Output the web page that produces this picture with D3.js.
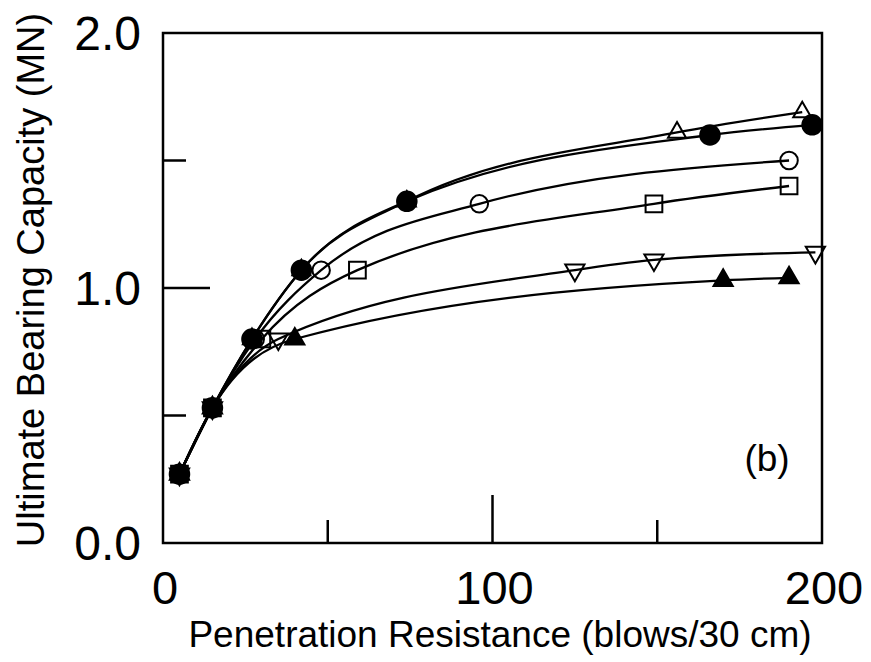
<!DOCTYPE html>
<html>
<head>
<meta charset="utf-8">
<script src="https://cdn.jsdelivr.net/npm/d3@7"></script>
<style>
body { margin: 0; background: #fff; }
text { font-family: "Liberation Sans", Arial, sans-serif; fill: #000; }
</style>
</head>
<body>
<script>
// data (blows/30 cm, MN)
var filledCircleX = [5, 15, 27, 42, 74, 166, 197];
var filledCircleY = [0.27, 0.53, 0.80, 1.07, 1.34, 1.60, 1.64];

var openTriUpX = [5, 15, 27, 42, 74, 156, 194];
var openTriUpY = [0.27, 0.53, 0.80, 1.07, 1.34, 1.61, 1.69];

var openCircleX = [5, 15, 28, 48, 96, 190];
var openCircleY = [0.27, 0.53, 0.80, 1.07, 1.33, 1.50];

var openSquareX = [5, 15, 30, 59, 149, 190];
var openSquareY = [0.27, 0.53, 0.80, 1.07, 1.33, 1.40];

var openTriDownX = [5, 15, 35, 125, 149, 198];
var openTriDownY = [0.27, 0.53, 0.80, 1.07, 1.11, 1.14];

var filledTriX = [5, 15, 40, 170, 190];
var filledTriY = [0.27, 0.53, 0.80, 1.03, 1.04];

var xTickLabels = [0, 100, 200];
var yTickLabels = [0.0, 1.0, 2.0];
var xMinorTicks = [50, 150];
var yMinorTicks = [0.5, 1.5];

var width = 871;
var height = 662;

var x = d3.scaleLinear().domain([0, 200]).range([163, 822]);
var y = d3.scaleLinear().domain([0, 2]).range([543, 33]);

var model = d3.select('body').append('svg')
        .attr('width', width)
        .attr('height', height);

// frame
model.append('rect')
        .attr('x', x(0))
        .attr('y', y(2))
        .attr('width', x(200) - x(0))
        .attr('height', y(0) - y(2))
        .attr('fill', 'none')
        .attr('stroke', '#000')
        .attr('stroke-width', 2.5);

// inward ticks, the middle ones are long
model.selectAll('.xtick')
        .data(xMinorTicks.concat([100]))
        .enter().append('line')
        .attr('x1', function(d) { return x(d); })
        .attr('x2', function(d) { return x(d); })
        .attr('y1', y(0))
        .attr('y2', function(d) { return y(0) - (d == 100 ? 48 : 23); })
        .attr('stroke', '#000')
        .attr('stroke-width', 2.5);

model.selectAll('.ytick')
        .data(yMinorTicks.concat([1.0]))
        .enter().append('line')
        .attr('x1', x(0))
        .attr('x2', function(d) { return x(0) + (d == 1.0 ? 47 : 23); })
        .attr('y1', function(d) { return y(d); })
        .attr('y2', function(d) { return y(d); })
        .attr('stroke', '#000')
        .attr('stroke-width', 2.5);

// tick labels
model.selectAll('.xlab')
        .data(xTickLabels)
        .enter().append('text')
        .attr('x', function(d) { return x(d) + 2; })
        .attr('y', 604)
        .attr('text-anchor', 'middle')
        .attr('font-size', 47)
        .text(function(d) { return d; });

model.selectAll('.ylab')
        .data(yTickLabels)
        .enter().append('text')
        .attr('x', 141)
        .attr('y', function(d) { return y(d) + 17; })
        .attr('text-anchor', 'end')
        .attr('font-size', 48)
        .text(function(d) { return d.toFixed(1); });

// axis titles
model.append('text')
        .attr('x', 500)
        .attr('y', 647)
        .attr('text-anchor', 'middle')
        .attr('font-size', 37)
        .text('Penetration Resistance (blows/30 cm)');

model.append('text')
        .attr('text-anchor', 'middle')
        .attr('font-size', 38)
        .attr('transform', 'translate(44,280) rotate(-90)')
        .text('Ultimate Bearing Capacity (MN)');

// panel label
model.append('text')
        .attr('x', 767)
        .attr('y', 471)
        .attr('text-anchor', 'middle')
        .attr('font-size', 37)
        .text('(b)');

// curves
var lineFunc = d3.line()
        .x(function(d) { return x(d[0]); })
        .y(function(d) { return y(d[1]); })
        .curve(d3.curveMonotoneX);

var series = [
    {xs: filledCircleX, ys: filledCircleY, shape: 'circle', filled: true, size: 300},
    {xs: openTriUpX, ys: openTriUpY, shape: 'triup', filled: false, size: 140},
    {xs: openCircleX, ys: openCircleY, shape: 'circle', filled: false, size: 240},
    {xs: openSquareX, ys: openSquareY, shape: 'square', filled: false, size: 280},
    {xs: openTriDownX, ys: openTriDownY, shape: 'tridown', filled: false, size: 160},
    {xs: filledTriX, ys: filledTriY, shape: 'triup', filled: true, size: 160}
];

function pts(s) {
    return s.xs.map(function(v, i) { return [v, s.ys[i]]; });
}

series.forEach(function(s) {
    model.append('path')
            .attr('d', lineFunc(pts(s)))
            .attr('fill', 'none')
            .attr('stroke', '#000')
            .attr('stroke-width', 2.3);
});

// markers
var symbolTypes = {
    circle: d3.symbolCircle,
    square: d3.symbolSquare,
    triup: d3.symbolTriangle,
    tridown: d3.symbolTriangle
};

series.forEach(function(s) {
    model.selectAll(null)
            .data(pts(s))
            .enter().append('path')
            .attr('d', d3.symbol().type(symbolTypes[s.shape]).size(s.size))
            .attr('transform', function(d) {
                return 'translate(' + x(d[0]) + ',' + y(d[1]) + ')' + (s.shape == 'tridown' ? ' rotate(180)' : '');
            })
            .attr('fill', s.filled ? '#000' : 'none')
            .attr('stroke', '#000')
            .attr('stroke-width', 2);
});
</script>
</body>
</html>
